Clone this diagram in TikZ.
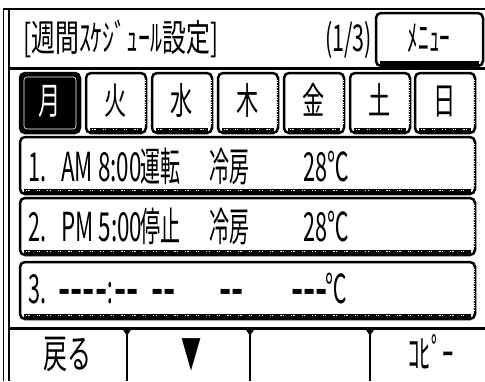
\documentclass[tikz,border=0pt]{standalone}
\usepackage{fontspec}
\usepackage{tikz}
\newfontfamily\jp{Noto Sans CJK JP}

\begin{document}
\begin{tikzpicture}[x=1pt, y=-1pt, line width=2.5pt,
  btn/.style={draw, rounded corners=5pt},
  band/.style={line width=4pt},
  ticks/.style={white, line width=1.2pt, dash pattern=on 1.2pt off 1.2pt on 1.2pt off 7pt},
  dots/.style={white, line width=0.8pt, dash pattern=on 0.8pt off 1.6pt},
  big/.style={font=\jp\fontsize{40}{40}\selectfont, inner sep=0pt, anchor=base west},
  dashtxt/.style={font=\jp\bfseries\fontsize{40}{40}\selectfont, inner sep=0pt, anchor=base west},
  mid/.style={font=\jp\fontsize{37}{37}\selectfont, inner sep=0pt},
  day/.style={font=\jp\fontsize{37}{37}\selectfont, inner sep=0pt, anchor=base}]
\useasboundingbox (0,0) rectangle (485,381);

% frame
\draw [line width=1.2pt] (3.5,8) -- (3.5,381);
\draw [line width=2pt] (9,9) -- (9,381);
\draw [line width=2.5pt] (3,9) -- (485,9);
\draw [line width=3pt] (9,68) -- (485,68);
\draw [line width=3pt] (9,328) -- (485,328);

% title bar
\node [mid, anchor=base west] (title) at (22,51) {\scalebox{0.645}[1]{[週間ｽｹｼﾞｭｰﾙ設定]}};
\node [mid, anchor=base east] (page) at (373,51) {\scalebox{0.58}[1]{(1/3)}};
\draw [btn, fill=white] (376,13) rectangle (483,66);
\draw [band] (380,63) -- (479,63);
\node [mid, anchor=base] (menu) at (429,51) {\scalebox{0.57}[1]{ﾒﾆｭｰ}};

% days
\draw [btn, fill=black] (20,73) rectangle (80,133);
\draw [white, line width=0.6pt, rounded corners=3pt] (24,77) rectangle (76,129);
\node [day, white] (day1) at (50,114) {\scalebox{0.6}[1]{月}};
\foreach \xa/\dn [count=\i from 2] in {86/火,152/水,218/木,284/金,350/土,415/日} {
  \draw [btn] (\xa,73) rectangle ++(60,60);
  \draw [band] (\xa+4,130) -- ++(52,0);
  \draw [ticks] (\xa+6,129.5) -- ++(48,0);
  \draw [dots] (\xa+59,80) -- ++(0,45);
  \node [day] (day\i) at (\xa+30,114) {\scalebox{0.6}[1]{\dn}};
}

% schedule rows
\foreach \ya in {137,198,262} {
  \draw [btn] (20,\ya) rectangle (475,\ya+57);
  \draw [band] (24,\ya+54) -- (471,\ya+54);
  \draw [ticks] (26,\ya+53.5) -- (469,\ya+53.5);
  \draw [dots] (474,\ya+7) -- (474,\ya+50);
}
\node [big] (n1) at (27,181) {\scalebox{0.54}[1]{1.}};
\node [big] (t1) at (60,181) {\scalebox{0.56}[1]{AM 8:00}};
\node [big] (a1) at (139,181) {\scalebox{0.5}[1]{運転}};
\node [big] (m1) at (208,181) {\scalebox{0.5}[1]{冷房}};
\node [big] (c1) at (302,181) {\scalebox{0.54}[1]{28℃}};

\node [big] (n2) at (27,241) {\scalebox{0.54}[1]{2.}};
\node [big] (t2) at (60,241) {\scalebox{0.56}[1]{PM 5:00}};
\node [big] (a2) at (139,241) {\scalebox{0.5}[1]{停止}};
\node [big] (m2) at (208,241) {\scalebox{0.5}[1]{冷房}};
\node [big] (c2) at (302,241) {\scalebox{0.54}[1]{28℃}};

\node [big] (n3) at (27,303) {\scalebox{0.54}[1]{3.}};
\node [dashtxt] (h3a) at (57,303) {\scalebox{0.8}[1]{----}};
\node [big] (col3) at (106,303) {\scalebox{0.5}[1]{:}};
\node [dashtxt] (h3b) at (113,303) {\scalebox{0.8}[1]{--}};
\node [dashtxt] (h3c) at (150,303) {\scalebox{0.8}[1]{--}};
\node [dashtxt] (a3) at (218,303) {\scalebox{0.8}[1]{--}};
\node [dashtxt] (h3d) at (290,303) {\scalebox{0.8}[1]{---}};
\node [big] (c3) at (324,303) {\scalebox{0.54}[1]{℃}};

% bottom buttons
\foreach \xa in {127,250,370} {
  \draw [line width=2pt] (\xa-4,328) -- (\xa,334) -- (\xa+4,328);
  \draw [line width=2pt] (\xa,330) -- (\xa,381);
}
\node [big, anchor=base] (back) at (67,368) {\scalebox{0.6}[1]{戻る}};
\node [big, anchor=base] (down) at (191,368) {\scalebox{0.5}[1]{▼}};
\node [big, anchor=base] (copy) at (431,368) {\scalebox{0.57}[1]{ｺﾋﾟｰ}};
\end{tikzpicture}
\end{document}
